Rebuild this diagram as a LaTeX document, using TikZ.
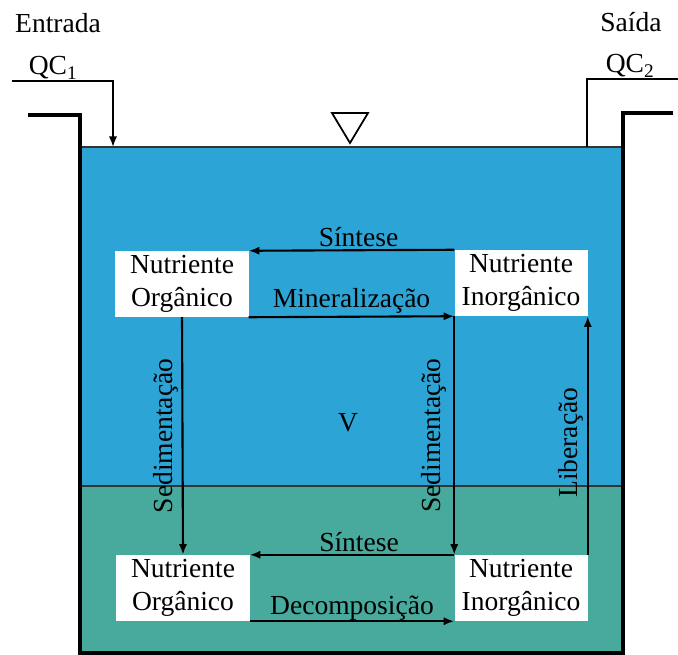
\documentclass[tikz,border=0pt]{standalone}
\usepackage{fontspec}
\setmainfont{Liberation Serif}
\usetikzlibrary{arrows.meta}
\definecolor{agua}{RGB}{44,164,214}
\definecolor{sedimento}{RGB}{72,170,156}
\tikzset{
  box/.style={fill=white, align=center, inner sep=0pt,
    minimum width=3.99cm, minimum height=1.98cm},
  flow/.style={-{Latex[length=9pt,width=7pt]}, line width=1.8pt},
  pipe/.style={line width=1.5pt},
  wall/.style={line width=3.4pt},
  lbl/.style={above, inner sep=2pt},
  vlbl/.style={rotate=90, anchor=south, inner sep=3pt}
}

\begin{document}
\begin{tikzpicture}[x=0.03cm, y=-0.03cm, font=\fontsize{23.5}{28}\selectfont]
    \useasboundingbox (0,0) rectangle (678,655);

    % water and sediment
    \fill[agua] (80,147) rectangle (623,486);
    \fill[sedimento] (80,486) rectangle (623,653);
    \draw[line width=1.1pt, black!80] (80,147) coordinate(sl) -- (623,147) coordinate(sr);
    \draw[line width=1.1pt, black!80] (80,486) -- (623,486);

    % tank
    \draw[wall] (28,115) -- (80,115) -- (80,653) -- (623,653) -- (623,113) -- (673,113);
    \draw[line width=1.5pt] (332,113) -- (368,113) -- (350,143) -- cycle;

    % inlet / outlet
    \node[anchor=base] (ent) at (58,33) {Entrada};
    \node[anchor=base] (qc1) at (53,75) {QC\textsubscript{1}};
    \coordinate (in0) at (12,81);
    \coordinate (in1) at (113,81);
    \coordinate (in2) at (113,147);
    \draw[pipe,-{Latex[length=9pt,width=7pt]}] (in0) -- (in1) -- (in2);

    \node[anchor=base] (sai) at (631,32) {Saída};
    \node[anchor=base] (qc2) at (630,73) {QC\textsubscript{2}};
    \coordinate (out0) at (587,147);
    \coordinate (out1) at (587,79);
    \coordinate (out2) at (678,79);
    \draw[pipe] (out0) -- (out1) -- (out2);

    % nutrients
    \node[box] (to) at (182,284) {Nutriente\\Orgânico};
    \node[box] (ti) at (521,283) {Nutriente\\Inorgânico};
    \node[box] (bo) at (183,588) {Nutriente\\Orgânico};
    \node[box] (bi) at (521,588) {Nutriente\\Inorgânico};
    \node (vol) at (348,423) {V};

    \draw[flow] (ti.north west) -- node[lbl, xshift=6pt]{Síntese} (to.north east);
    \draw[flow] (to.south east) -- node[lbl]{Mineralização} (ti.south west);
    \draw[flow] (to.south) -- node[vlbl]{Sedimentação} (bo.north);
    \draw[flow] (ti.south west) -- node[vlbl, inner sep=6pt]{Sedimentação} (bi.north west);
    \draw[flow] (bi.north east) -- node[vlbl, pos=.47]{Liberação} (ti.south east);
    \draw[flow] (bi.north west) -- node[lbl, xshift=6pt]{Síntese} (bo.north east);
    \draw[flow] (bo.south east) -- node[lbl, inner sep=0pt]{Decomposição} (bi.south west);
\end{tikzpicture}
\end{document}
